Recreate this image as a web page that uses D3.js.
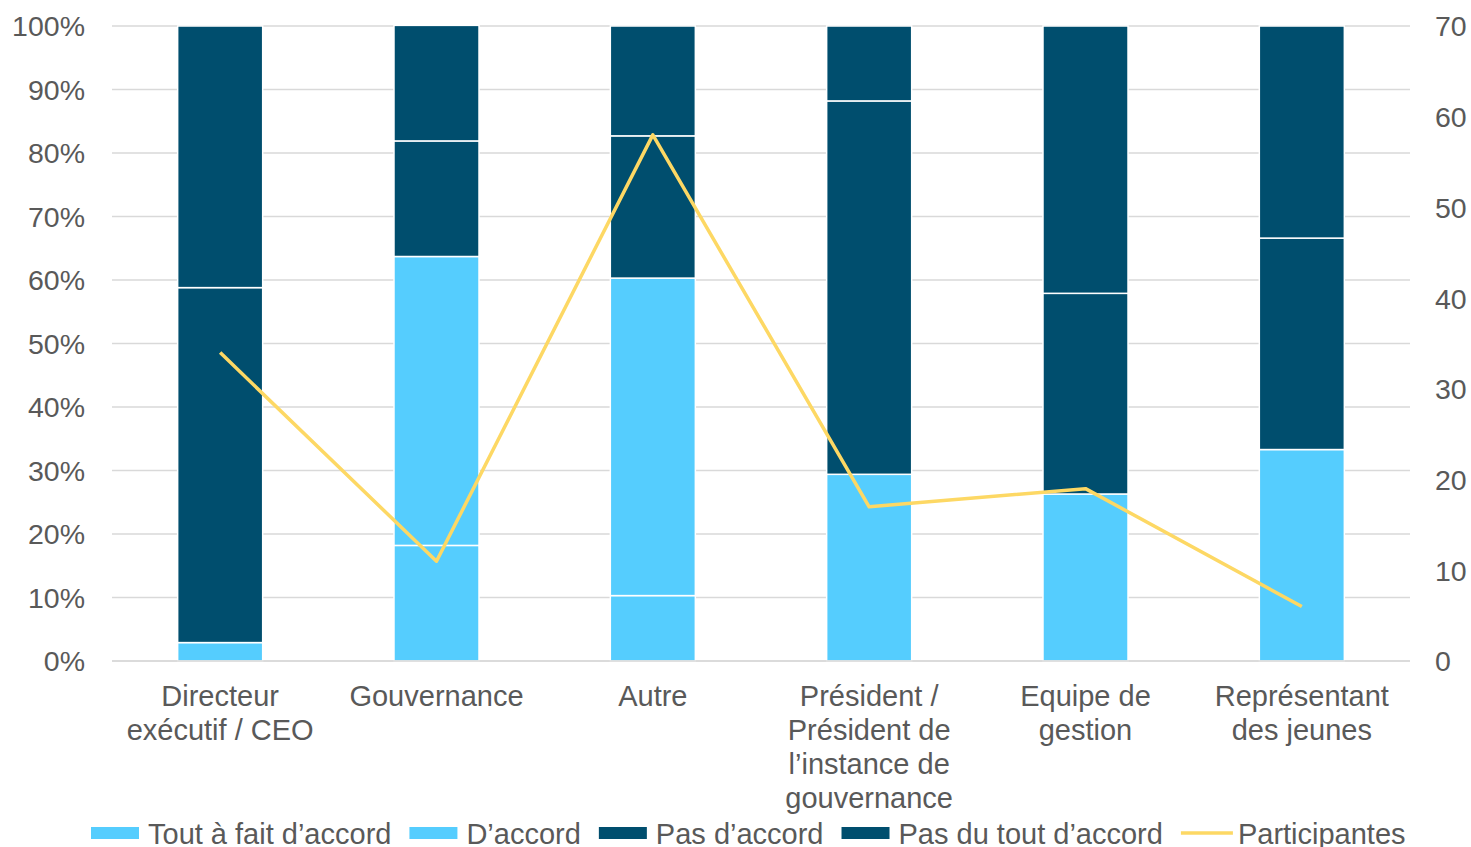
<!DOCTYPE html>
<html>
<head>
<meta charset="utf-8">
<script src="https://cdn.jsdelivr.net/npm/d3@7"></script>
<style>
  body { margin: 0; background: #fff; }
  text { font-family: "Liberation Sans", Arial, sans-serif; fill: #595959; }
</style>
</head>
<body>
<div id="chart"></div>
<script>
// categories
var categories = [
  ["Directeur", "exécutif / CEO"],
  ["Gouvernance"],
  ["Autre"],
  ["Président /", "Président de", "l’instance de", "gouvernance"],
  ["Equipe de", "gestion"],
  ["Représentant", "des jeunes"]
];
// stacked series, percent of participants
var seriesNames = ["Tout à fait d’accord", "D’accord", "Pas d’accord", "Pas du tout d’accord"];
var seriesColors = ["#55CDFE", "#55CDFE", "#004E6E", "#004E6E"];
var toutAFait = [2.9, 18.2, 10.3, 29.4, 26.3, 33.3];
var dAccord = [0, 45.5, 50.0, 0, 0, 0];
var pasDAccord = [55.9, 18.2, 22.4, 58.8, 31.6, 33.3];
var pasDuTout = [41.2, 18.2, 17.3, 11.8, 42.1, 33.4];
// line series, right axis
var participantes = [34, 11, 58, 17, 19, 6];
var leftTicks = [0, 10, 20, 30, 40, 50, 60, 70, 80, 90, 100];
var rightTicks = [0, 10, 20, 30, 40, 50, 60, 70];

var width = 1471, height = 847;
var margin = {left: 112, right: 61, top: 26, bottom: 186};
var fontSize = 29;

var svg = d3.select("#chart").append("svg")
  .attr("width", width).attr("height", height);

var x = d3.scaleBand()
  .domain(d3.range(categories.length))
  .range([margin.left, width - margin.right])
  .paddingInner(0.607).paddingOuter(0.3035);
var y = d3.scaleLinear().domain([0, 100]).range([height - margin.bottom, margin.top]);
var y2 = d3.scaleLinear().domain([0, 70]).range([height - margin.bottom, margin.top]);

// gridlines
svg.append("g").selectAll("line").data(leftTicks).join("line")
  .attr("x1", margin.left).attr("x2", width - margin.right)
  .attr("y1", d => y(d)).attr("y2", d => y(d))
  .attr("stroke", "#D9D9D9").attr("stroke-width", 1.5);

// left axis
var leftAxis = svg.append("g")
  .attr("transform", "translate(" + (margin.left - 27) + ",0)")
  .call(d3.axisLeft(y).tickValues(leftTicks).tickFormat(d => d + "%").tickSize(0).tickPadding(0));
leftAxis.select(".domain").remove();
leftAxis.selectAll("text").attr("font-size", 28.5).attr("fill", "#595959")
  .style("font-family", "'Liberation Sans', Arial, sans-serif").attr("dy", "0.35em");

// right axis
var rightAxis = svg.append("g")
  .attr("transform", "translate(" + (width - margin.right + 25) + ",0)")
  .call(d3.axisRight(y2).tickValues(rightTicks).tickSize(0).tickPadding(0));
rightAxis.select(".domain").remove();
rightAxis.selectAll("text").attr("font-size", 28.5).attr("fill", "#595959")
  .style("font-family", "'Liberation Sans', Arial, sans-serif").attr("dy", "0.35em");

// stacked bars
var rows = categories.map(function(c, i) {
  return {i: i, s0: toutAFait[i], s1: dAccord[i], s2: pasDAccord[i], s3: pasDuTout[i]};
});
var stack = d3.stack().keys(["s0", "s1", "s2", "s3"]);
var stacked = stack(rows);

svg.append("g").selectAll("g").data(stacked).join("g")
  .attr("fill", (d, k) => seriesColors[k])
  .selectAll("rect").data(d => d).join("rect")
  .attr("x", d => x(d.data.i))
  .attr("width", x.bandwidth())
  .attr("y", d => y(d[1]))
  .attr("height", d => y(d[0]) - y(d[1]))
  .attr("stroke", "#fff").attr("stroke-width", 1.5);

// baseline
svg.append("line")
  .attr("x1", margin.left).attr("x2", width - margin.right)
  .attr("y1", y(0)).attr("y2", y(0))
  .attr("stroke", "#D9D9D9").attr("stroke-width", 1.5);

// line
var line = d3.line()
  .x((d, i) => x(i) + x.bandwidth() / 2)
  .y(d => y2(d));
svg.append("path").datum(participantes)
  .attr("d", line)
  .attr("fill", "none")
  .attr("stroke", "#FDD864")
  .attr("stroke-width", 3.5)
  .attr("stroke-linejoin", "round");

// category labels
var labels = svg.append("g").selectAll("text").data(categories).join("text")
  .attr("text-anchor", "middle")
  .attr("font-size", fontSize)
  .attr("x", (d, i) => x(i) + x.bandwidth() / 2)
  .attr("y", y(0) + 45);
labels.selectAll("tspan").data(d => d).join("tspan")
  .attr("x", function() { return d3.select(this.parentNode).attr("x"); })
  .attr("dy", (d, j) => j === 0 ? 0 : 34)
  .text(d => d);

// legend
var legendItems = seriesNames.map((n, k) => ({name: n, color: seriesColors[k], type: "rect"}))
  .concat([{name: "Participantes", color: "#FDD864", type: "line"}]);
var legend = svg.append("g");
var lx = 91, ly = 833;
legendItems.forEach(function(it) {
  if (it.type === "rect") {
    legend.append("rect").attr("x", lx).attr("y", ly - 6).attr("width", 48).attr("height", 12)
      .attr("fill", it.color);
  } else {
    legend.append("line").attr("x1", lx).attr("x2", lx + 52).attr("y1", ly).attr("y2", ly)
      .attr("stroke", it.color).attr("stroke-width", 3.5);
  }
  var t = legend.append("text").attr("x", lx + 57).attr("y", ly + 11)
    .attr("font-size", fontSize).text(it.name);
  lx += 57 + t.node().getComputedTextLength() + 18;
});
</script>
</body>
</html>
